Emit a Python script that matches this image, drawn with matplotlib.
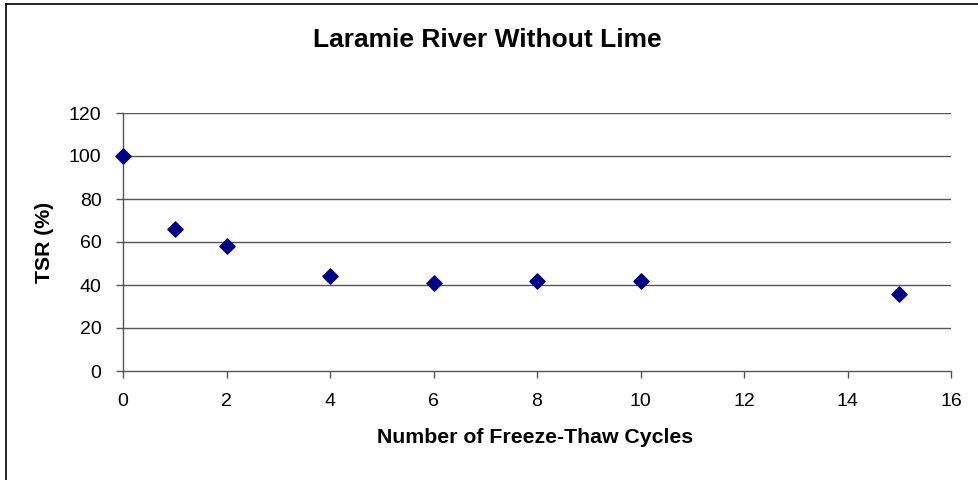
import matplotlib
matplotlib.use('Agg')
import matplotlib.pyplot as plt
from matplotlib.lines import Line2D

plt.rcParams['font.family'] = ['Liberation Sans', 'DejaVu Sans']

# freeze-thaw data
cycles = [0, 1, 2, 4, 6, 8, 10, 15]
tsr    = [100, 66, 58, 44, 41, 42, 42, 36]

x_ticks = [0, 2, 4, 6, 8, 10, 12, 14, 16]
y_ticks = [0, 20, 40, 60, 80, 100, 120]

W, H = 979, 480
fig = plt.figure(figsize=(W/100, H/100), dpi=100)
ax = fig.add_axes([123/W, 1 - 371/H, (951 - 123)/W, (371 - 113)/H])

# horizontal grid in data coords so it stops at x=16
ax.hlines(y_ticks[1:], 0, 16, color='#555555', linewidth=1, zorder=1)
ax.scatter(cycles, tsr, marker='D', s=60, color='#000080', zorder=3, clip_on=False)

ax.set_xlim(0, 16)
ax.set_ylim(0, 120)
ax.set_xticks(x_ticks)
ax.set_yticks(y_ticks)
ax.tick_params(labelsize=14, length=5, width=1, color='#555555', direction='out')
ax.tick_params(axis='x', pad=11)
ax.tick_params(axis='y', pad=10.5)

for s in ['top', 'right']:
    ax.spines[s].set_visible(False)
for s in ['left', 'bottom']:
    ax.spines[s].set_color('#555555')
    ax.spines[s].set_linewidth(1)

# labels placed in figure coords, as in the original layout
fig.text(535/W, 1 - 443/H, 'Number of Freeze-Thaw Cycles', fontsize=15.3,
         fontweight='bold', ha='center', va='baseline')
fig.text(45/W, 1 - 242/H, 'TSR (%)', fontsize=15.3, fontweight='bold',
         ha='center', va='center', rotation=90)
fig.text(487/W, 1 - 47/H, 'Laramie River Without Lime', fontsize=19,
         fontweight='bold', ha='center', va='baseline')

# chart frame (only left and top edges visible in the image)
fig.add_artist(Line2D([6.5/W, 6.5/W], [0, 1 - 4/H], color='black', linewidth=1.2,
                      transform=fig.transFigure))
fig.add_artist(Line2D([6.5/W, 1], [1 - 4/H, 1 - 4/H], color='black', linewidth=1.2,
                      transform=fig.transFigure))

fig.savefig('out.png', dpi=100)
